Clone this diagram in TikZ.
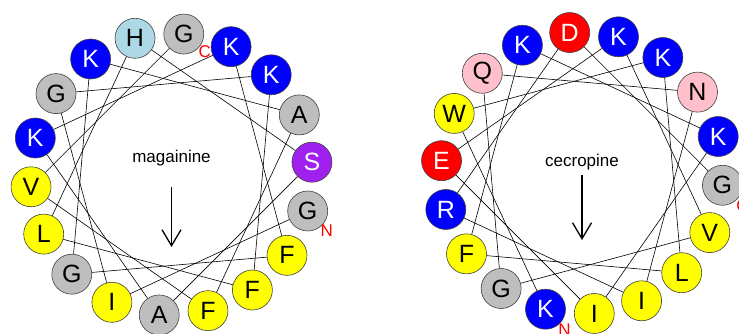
\documentclass[tikz,border=0pt]{standalone}
\usepackage{fontspec}
\setmainfont{Liberation Sans}
\usetikzlibrary{arrows.meta}
\definecolor{resgray}{RGB}{190,190,190}
\definecolor{resyellow}{RGB}{255,255,0}
\definecolor{resblue}{RGB}{0,0,255}
\definecolor{reslight}{RGB}{173,216,230}
\definecolor{respurple}{RGB}{160,32,240}
\definecolor{resred}{RGB}{255,0,0}
\definecolor{respink}{RGB}{255,192,203}
\begin{document}
\begin{tikzpicture}[x=1pt, y=1pt,
    res/.style = {draw=black!75, line width=0.6pt, circle, minimum size=40pt, inner sep=0pt,
                  font=\fontsize{25}{25}\selectfont},
    gr/.style = {fill=resgray},
    ye/.style = {fill=resyellow},
    bl/.style = {fill=resblue, text=white},
    lb/.style = {fill=reslight},
    pu/.style = {fill=respurple, text=white},
    rd/.style = {fill=resred, text=white},
    pk/.style = {fill=respink},
    term/.style = {text=red, inner sep=0pt, font=\fontsize{17}{17}\selectfont},
    title/.style = {inner sep=0pt, font=\fontsize{17}{17}\selectfont},
    link/.style = {line width=0.6pt},
    dipole/.style = {line width=1.3pt, -{Straight Barb[length=16pt, width=19pt]}}]
    \useasboundingbox (0,0) rectangle (739,334);
    % magainine wheel
    \begin{scope}[shift={(171.5,159.5)}]
        \foreach \l/\f [count=\i] in {G/gr,I/ye,G/gr,K/bl,F/ye,L/ye,H/lb,S/pu,A/gr,
                                      K/bl,K/bl,F/ye,G/gr,K/bl,A/gr,F/ye,V/ye,G/gr}
            \node[res, \f] (m\i) at ({-15-100*(\i-1)}:141) {\l};
        \foreach \i [evaluate=\i as \j using int(\i+1)] in {1,...,17}
            \draw[link] (m\i) -- (m\j);
        \node[term] (mN) at ([shift={(19,-20)}]m1) {N};
        \node[term] (mC) at ([shift={(21,-18)}]m18) {C};
        %
        \node[title] (mtitle) at (0,16.5) {magainine};
        \coordinate (mtip) at (0,-72.5);
        \draw[dipole] (0,-12.5) -- (mtip);
    \end{scope}
    % cecropine wheel
    \begin{scope}[shift={(582,161)}]
        \foreach \l/\f [count=\i] in {K/bl,W/ye,K/bl,L/ye,F/ye,K/bl,K/bl,I/ye,E/rd,
                                      K/bl,V/ye,G/gr,Q/pk,N/pk,I/ye,R/bl,D/rd,G/gr}
            \node[res, \f] (c\i) at ({-105-100*(\i-1)}:141) {\l};
        \foreach \i [evaluate=\i as \j using int(\i+1)] in {1,...,17}
            \draw[link] (c\i) -- (c\j);
        \node[term] (cN) at ([shift={(19,-20)}]c1) {N};
        \node[term] (cC) at ([shift={(20,-20)}]c18) {C};
        %
        \node[title] (ctitle) at (0,11) {cecropine};
        \coordinate (ctip) at (0,-67);
        \draw[dipole] (0,-2) -- (ctip);
    \end{scope}
\end{tikzpicture}
\end{document}
